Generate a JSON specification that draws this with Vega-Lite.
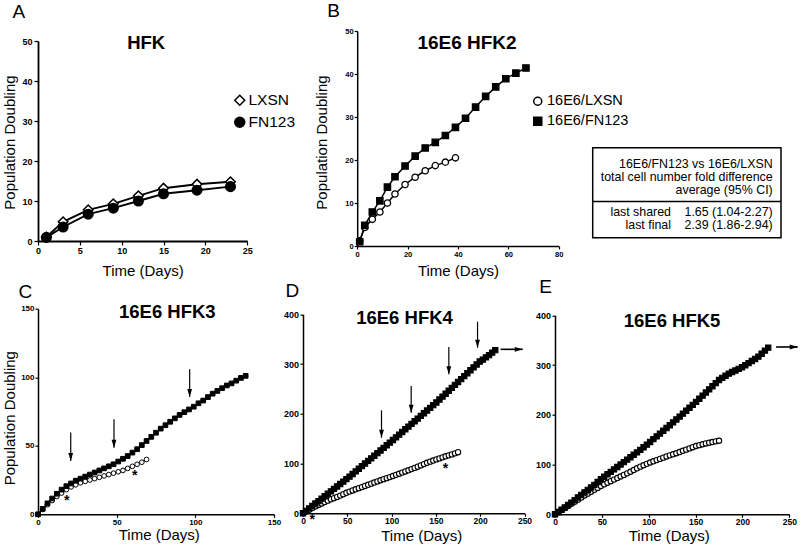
{
  "$schema": "https://vega.github.io/schema/vega-lite/v6.json",
  "background": "white",
  "padding": {"left": 2, "top": 1, "right": 2, "bottom": 2},
  "config": {
    "view": {"stroke": null},
    "font": "Liberation Sans",
    "axis": {"domainColor": "black", "domainWidth": 1.5, "tickColor": "black", "tickWidth": 1.2, "labelColor": "black", "labelFontWeight": "bold", "labelFont": "Liberation Sans", "titleFont": "Liberation Sans", "titleFontWeight": "normal", "titleFontSize": 15, "titleColor": "black", "grid": false, "labelFlush": false, "labelOverlap": false, "titleAlign": "center", "titleBaseline": "alphabetic"},
    "title": {"font": "Liberation Sans", "fontSize": 19, "fontWeight": "normal", "color": "black", "anchor": "start", "frame": "group", "baseline": "alphabetic"}
  },
  "datasets": {
    "a": [
      {"t": 1, "pd": 1.0, "s": "LXSN"}, {"t": 3, "pd": 4.8, "s": "LXSN"}, {"t": 6, "pd": 7.8, "s": "LXSN"}, {"t": 9, "pd": 9.3, "s": "LXSN"}, {"t": 12, "pd": 11.3, "s": "LXSN"}, {"t": 15, "pd": 13.2, "s": "LXSN"}, {"t": 19, "pd": 14.2, "s": "LXSN"}, {"t": 23, "pd": 14.8, "s": "LXSN"},
      {"t": 1, "pd": 0.9, "s": "FN123"}, {"t": 3, "pd": 3.5, "s": "FN123"}, {"t": 6, "pd": 6.7, "s": "FN123"}, {"t": 9, "pd": 8.2, "s": "FN123"}, {"t": 12, "pd": 10.0, "s": "FN123"}, {"t": 15, "pd": 11.8, "s": "FN123"}, {"t": 19, "pd": 12.7, "s": "FN123"}, {"t": 23, "pd": 13.6, "s": "FN123"}
    ],
    "b": [
      {"t": 1, "pd": 1.2, "s": "16E6/LXSN"}, {"t": 3, "pd": 4.3, "s": "16E6/LXSN"}, {"t": 6, "pd": 6.2, "s": "16E6/LXSN"}, {"t": 9, "pd": 7.9, "s": "16E6/LXSN"}, {"t": 12, "pd": 10.0, "s": "16E6/LXSN"}, {"t": 15, "pd": 12.1, "s": "16E6/LXSN"}, {"t": 19, "pd": 14.3, "s": "16E6/LXSN"}, {"t": 23, "pd": 16.0, "s": "16E6/LXSN"}, {"t": 27, "pd": 17.5, "s": "16E6/LXSN"}, {"t": 31, "pd": 18.7, "s": "16E6/LXSN"}, {"t": 35, "pd": 19.5, "s": "16E6/LXSN"}, {"t": 39, "pd": 20.5, "s": "16E6/LXSN"},
      {"t": 1, "pd": 1.0, "s": "16E6/FN123"}, {"t": 3, "pd": 4.8, "s": "16E6/FN123"}, {"t": 6, "pd": 7.9, "s": "16E6/FN123"}, {"t": 9, "pd": 10.5, "s": "16E6/FN123"}, {"t": 12, "pd": 13.7, "s": "16E6/FN123"}, {"t": 15, "pd": 16.1, "s": "16E6/FN123"}, {"t": 19, "pd": 18.6, "s": "16E6/FN123"}, {"t": 23, "pd": 20.9, "s": "16E6/FN123"}, {"t": 27, "pd": 22.8, "s": "16E6/FN123"}, {"t": 31, "pd": 24.1, "s": "16E6/FN123"}, {"t": 35, "pd": 25.7, "s": "16E6/FN123"}, {"t": 39, "pd": 27.6, "s": "16E6/FN123"}, {"t": 43, "pd": 29.7, "s": "16E6/FN123"}, {"t": 47, "pd": 32.3, "s": "16E6/FN123"}, {"t": 51, "pd": 34.8, "s": "16E6/FN123"}, {"t": 55, "pd": 37.0, "s": "16E6/FN123"}, {"t": 59, "pd": 38.9, "s": "16E6/FN123"}, {"t": 63, "pd": 40.2, "s": "16E6/FN123"}, {"t": 67, "pd": 41.4, "s": "16E6/FN123"}
    ],
    "table": [
      {"col": 2, "sec": 1, "txt": ["16E6/FN123 vs 16E6/LXSN", "total cell number fold difference", "average (95% CI)"]},
      {"col": 1, "sec": 2, "txt": ["last shared", "last final"]},
      {"col": 2, "sec": 2, "txt": ["1.65 (1.04-2.27)", "2.39 (1.86-2.94)"]}
    ],
    "c": [
      {"t": 0, "pd": 0, "s": "16E6/LXSN"}, {"t": 3, "pd": 3.5, "s": "16E6/LXSN"}, {"t": 6, "pd": 7, "s": "16E6/LXSN"}, {"t": 9, "pd": 10, "s": "16E6/LXSN"}, {"t": 12, "pd": 13, "s": "16E6/LXSN"}, {"t": 15, "pd": 15.5, "s": "16E6/LXSN"}, {"t": 18, "pd": 18, "s": "16E6/LXSN"}, {"t": 21, "pd": 20, "s": "16E6/LXSN"}, {"t": 24, "pd": 21.5, "s": "16E6/LXSN"}, {"t": 27, "pd": 23, "s": "16E6/LXSN"}, {"t": 30, "pd": 24, "s": "16E6/LXSN"}, {"t": 33, "pd": 25, "s": "16E6/LXSN"}, {"t": 36, "pd": 26, "s": "16E6/LXSN"}, {"t": 39, "pd": 27, "s": "16E6/LXSN"}, {"t": 42, "pd": 28, "s": "16E6/LXSN"}, {"t": 45, "pd": 29, "s": "16E6/LXSN"}, {"t": 48, "pd": 30, "s": "16E6/LXSN"}, {"t": 51, "pd": 31, "s": "16E6/LXSN"}, {"t": 54, "pd": 32, "s": "16E6/LXSN"}, {"t": 57, "pd": 33.5, "s": "16E6/LXSN"}, {"t": 60, "pd": 35, "s": "16E6/LXSN"}, {"t": 63, "pd": 36.5, "s": "16E6/LXSN"}, {"t": 66, "pd": 38, "s": "16E6/LXSN"}, {"t": 69, "pd": 40, "s": "16E6/LXSN"},
      {"t": 0, "pd": 0, "s": "16E6/FN123"}, {"t": 3, "pd": 4, "s": "16E6/FN123"}, {"t": 6, "pd": 8, "s": "16E6/FN123"}, {"t": 9, "pd": 11.5, "s": "16E6/FN123"}, {"t": 12, "pd": 15, "s": "16E6/FN123"}, {"t": 15, "pd": 18, "s": "16E6/FN123"}, {"t": 18, "pd": 20.5, "s": "16E6/FN123"}, {"t": 21, "pd": 22.5, "s": "16E6/FN123"}, {"t": 24, "pd": 24.5, "s": "16E6/FN123"}, {"t": 27, "pd": 26, "s": "16E6/FN123"}, {"t": 30, "pd": 27.5, "s": "16E6/FN123"}, {"t": 33, "pd": 29, "s": "16E6/FN123"}, {"t": 36, "pd": 30.5, "s": "16E6/FN123"}, {"t": 39, "pd": 32, "s": "16E6/FN123"}, {"t": 42, "pd": 33.5, "s": "16E6/FN123"}, {"t": 45, "pd": 35, "s": "16E6/FN123"}, {"t": 48, "pd": 36.5, "s": "16E6/FN123"}, {"t": 51, "pd": 38.5, "s": "16E6/FN123"}, {"t": 54, "pd": 40.5, "s": "16E6/FN123"}, {"t": 57, "pd": 42.5, "s": "16E6/FN123"}, {"t": 60, "pd": 45, "s": "16E6/FN123"}, {"t": 63, "pd": 47.5, "s": "16E6/FN123"}, {"t": 66, "pd": 50.5, "s": "16E6/FN123"}, {"t": 69, "pd": 53.5, "s": "16E6/FN123"}, {"t": 72, "pd": 56.5, "s": "16E6/FN123"}, {"t": 75, "pd": 59.5, "s": "16E6/FN123"}, {"t": 78, "pd": 62.5, "s": "16E6/FN123"}, {"t": 81, "pd": 65, "s": "16E6/FN123"}, {"t": 84, "pd": 67.5, "s": "16E6/FN123"}, {"t": 87, "pd": 70, "s": "16E6/FN123"}, {"t": 90, "pd": 72.5, "s": "16E6/FN123"}, {"t": 93, "pd": 74.5, "s": "16E6/FN123"}, {"t": 96, "pd": 76.5, "s": "16E6/FN123"}, {"t": 99, "pd": 78.5, "s": "16E6/FN123"}, {"t": 102, "pd": 81, "s": "16E6/FN123"}, {"t": 105, "pd": 83, "s": "16E6/FN123"}, {"t": 108, "pd": 85.5, "s": "16E6/FN123"}, {"t": 111, "pd": 88, "s": "16E6/FN123"}, {"t": 114, "pd": 90, "s": "16E6/FN123"}, {"t": 117, "pd": 92, "s": "16E6/FN123"}, {"t": 120, "pd": 94, "s": "16E6/FN123"}, {"t": 123, "pd": 95.5, "s": "16E6/FN123"}, {"t": 126, "pd": 97.5, "s": "16E6/FN123"}, {"t": 129, "pd": 99.5, "s": "16E6/FN123"}, {"t": 132, "pd": 101, "s": "16E6/FN123"}
    ],
    "cArrows": [{"t": 20.8, "top": 59.6, "tip": 38.9}, {"t": 48.3, "top": 69.3, "tip": 48.6}, {"t": 96.4, "top": 105.8, "tip": 85.6}],
    "cStars": [{"t": 18.2, "pd": 6.8}, {"t": 61.4, "pd": 24.8}],
    "d": [
      {"t": 0, "pd": 0, "s": "16E6/LXSN"}, {"t": 3.5, "pd": 3.5, "s": "16E6/LXSN"}, {"t": 7, "pd": 7, "s": "16E6/LXSN"}, {"t": 10.5, "pd": 10.5, "s": "16E6/LXSN"}, {"t": 14, "pd": 13.6, "s": "16E6/LXSN"}, {"t": 17.5, "pd": 16.8, "s": "16E6/LXSN"}, {"t": 21, "pd": 19.8, "s": "16E6/LXSN"}, {"t": 24.5, "pd": 22.6, "s": "16E6/LXSN"}, {"t": 28, "pd": 25.4, "s": "16E6/LXSN"}, {"t": 31.5, "pd": 28.1, "s": "16E6/LXSN"}, {"t": 35, "pd": 30.5, "s": "16E6/LXSN"}, {"t": 38.5, "pd": 33, "s": "16E6/LXSN"}, {"t": 42, "pd": 35.6, "s": "16E6/LXSN"}, {"t": 45.5, "pd": 38.4, "s": "16E6/LXSN"}, {"t": 49, "pd": 41.2, "s": "16E6/LXSN"}, {"t": 52.5, "pd": 43.6, "s": "16E6/LXSN"}, {"t": 56, "pd": 45.9, "s": "16E6/LXSN"}, {"t": 59.5, "pd": 48.2, "s": "16E6/LXSN"}, {"t": 63, "pd": 50.5, "s": "16E6/LXSN"}, {"t": 66.5, "pd": 52.7, "s": "16E6/LXSN"}, {"t": 70, "pd": 55, "s": "16E6/LXSN"}, {"t": 73.5, "pd": 57.3, "s": "16E6/LXSN"}, {"t": 77, "pd": 59.6, "s": "16E6/LXSN"}, {"t": 80.5, "pd": 61.8, "s": "16E6/LXSN"}, {"t": 84, "pd": 64.1, "s": "16E6/LXSN"}, {"t": 87.5, "pd": 66.4, "s": "16E6/LXSN"}, {"t": 91, "pd": 68.6, "s": "16E6/LXSN"}, {"t": 94.5, "pd": 70.7, "s": "16E6/LXSN"}, {"t": 98, "pd": 72.8, "s": "16E6/LXSN"}, {"t": 101.5, "pd": 75, "s": "16E6/LXSN"}, {"t": 105, "pd": 77.3, "s": "16E6/LXSN"}, {"t": 108.5, "pd": 79.5, "s": "16E6/LXSN"}, {"t": 112, "pd": 81.8, "s": "16E6/LXSN"}, {"t": 115.5, "pd": 84.1, "s": "16E6/LXSN"}, {"t": 119, "pd": 86.4, "s": "16E6/LXSN"}, {"t": 122.5, "pd": 88.8, "s": "16E6/LXSN"}, {"t": 126, "pd": 91.2, "s": "16E6/LXSN"}, {"t": 129.5, "pd": 93.7, "s": "16E6/LXSN"}, {"t": 133, "pd": 96.3, "s": "16E6/LXSN"}, {"t": 136.5, "pd": 98.9, "s": "16E6/LXSN"}, {"t": 140, "pd": 101.5, "s": "16E6/LXSN"}, {"t": 143.5, "pd": 103.8, "s": "16E6/LXSN"}, {"t": 147, "pd": 106, "s": "16E6/LXSN"}, {"t": 150.5, "pd": 108.3, "s": "16E6/LXSN"}, {"t": 154, "pd": 110.4, "s": "16E6/LXSN"}, {"t": 157.5, "pd": 112.5, "s": "16E6/LXSN"}, {"t": 161, "pd": 114.6, "s": "16E6/LXSN"}, {"t": 164.5, "pd": 116.5, "s": "16E6/LXSN"}, {"t": 168, "pd": 118.4, "s": "16E6/LXSN"}, {"t": 171.5, "pd": 120.5, "s": "16E6/LXSN"}, {"t": 175, "pd": 122.8, "s": "16E6/LXSN"},
      {"t": 0, "pd": 0, "s": "16E6/FN123"}, {"t": 3.5, "pd": 4.9, "s": "16E6/FN123"}, {"t": 7, "pd": 9.8, "s": "16E6/FN123"}, {"t": 10.5, "pd": 14.7, "s": "16E6/FN123"}, {"t": 14, "pd": 19.6, "s": "16E6/FN123"}, {"t": 17.5, "pd": 24.5, "s": "16E6/FN123"}, {"t": 21, "pd": 29.4, "s": "16E6/FN123"}, {"t": 24.5, "pd": 34.3, "s": "16E6/FN123"}, {"t": 28, "pd": 39.2, "s": "16E6/FN123"}, {"t": 31.5, "pd": 44.1, "s": "16E6/FN123"}, {"t": 35, "pd": 49, "s": "16E6/FN123"}, {"t": 38.5, "pd": 53.9, "s": "16E6/FN123"}, {"t": 42, "pd": 58.8, "s": "16E6/FN123"}, {"t": 45.5, "pd": 63.7, "s": "16E6/FN123"}, {"t": 49, "pd": 68.6, "s": "16E6/FN123"}, {"t": 52.5, "pd": 73.8, "s": "16E6/FN123"}, {"t": 56, "pd": 79, "s": "16E6/FN123"}, {"t": 59.5, "pd": 84.3, "s": "16E6/FN123"}, {"t": 63, "pd": 89.5, "s": "16E6/FN123"}, {"t": 66.5, "pd": 94.8, "s": "16E6/FN123"}, {"t": 70, "pd": 100, "s": "16E6/FN123"}, {"t": 73.5, "pd": 105.3, "s": "16E6/FN123"}, {"t": 77, "pd": 110.5, "s": "16E6/FN123"}, {"t": 80.5, "pd": 115.8, "s": "16E6/FN123"}, {"t": 84, "pd": 121, "s": "16E6/FN123"}, {"t": 87.5, "pd": 126.3, "s": "16E6/FN123"}, {"t": 91, "pd": 131.5, "s": "16E6/FN123"}, {"t": 94.5, "pd": 136.8, "s": "16E6/FN123"}, {"t": 98, "pd": 142, "s": "16E6/FN123"}, {"t": 101.5, "pd": 147.3, "s": "16E6/FN123"}, {"t": 105, "pd": 152.7, "s": "16E6/FN123"}, {"t": 108.5, "pd": 158.1, "s": "16E6/FN123"}, {"t": 112, "pd": 163.5, "s": "16E6/FN123"}, {"t": 115.5, "pd": 168.9, "s": "16E6/FN123"}, {"t": 119, "pd": 174.3, "s": "16E6/FN123"}, {"t": 122.5, "pd": 179.7, "s": "16E6/FN123"}, {"t": 126, "pd": 185, "s": "16E6/FN123"}, {"t": 129.5, "pd": 190.4, "s": "16E6/FN123"}, {"t": 133, "pd": 195.8, "s": "16E6/FN123"}, {"t": 136.5, "pd": 201.2, "s": "16E6/FN123"}, {"t": 140, "pd": 206.6, "s": "16E6/FN123"}, {"t": 143.5, "pd": 212, "s": "16E6/FN123"}, {"t": 147, "pd": 217.4, "s": "16E6/FN123"}, {"t": 150.5, "pd": 222.8, "s": "16E6/FN123"}, {"t": 154, "pd": 228.7, "s": "16E6/FN123"}, {"t": 157.5, "pd": 234.6, "s": "16E6/FN123"}, {"t": 161, "pd": 240.4, "s": "16E6/FN123"}, {"t": 164.5, "pd": 246.3, "s": "16E6/FN123"}, {"t": 168, "pd": 252.2, "s": "16E6/FN123"}, {"t": 171.5, "pd": 258.1, "s": "16E6/FN123"}, {"t": 175, "pd": 264, "s": "16E6/FN123"}, {"t": 178.5, "pd": 269.8, "s": "16E6/FN123"}, {"t": 182, "pd": 275.7, "s": "16E6/FN123"}, {"t": 185.5, "pd": 281.6, "s": "16E6/FN123"}, {"t": 189, "pd": 287.4, "s": "16E6/FN123"}, {"t": 192.5, "pd": 293.3, "s": "16E6/FN123"}, {"t": 196, "pd": 299.2, "s": "16E6/FN123"}, {"t": 199.5, "pd": 305, "s": "16E6/FN123"}, {"t": 203, "pd": 309, "s": "16E6/FN123"}, {"t": 206.5, "pd": 313.5, "s": "16E6/FN123"}, {"t": 210, "pd": 318, "s": "16E6/FN123"}, {"t": 213.5, "pd": 323, "s": "16E6/FN123"}, {"t": 217, "pd": 328, "s": "16E6/FN123"}
    ],
    "dArrows": [{"t": 88.6, "top": 207, "tip": 152}, {"t": 122.1, "top": 255.9, "tip": 202.2}, {"t": 164.6, "top": 334.3, "tip": 279.4}, {"t": 197, "top": 385.1, "tip": 332.9}],
    "dRight": [{"t": 223, "t2": 248, "pd": 329.6}],
    "dStars": [{"t": 10.4, "pd": -22}, {"t": 160.8, "pd": 82}],
    "e": [
      {"t": 0, "pd": 0, "s": "16E6/LXSN"}, {"t": 3.5, "pd": 4.2, "s": "16E6/LXSN"}, {"t": 7, "pd": 8.4, "s": "16E6/LXSN"}, {"t": 10.5, "pd": 12.6, "s": "16E6/LXSN"}, {"t": 14, "pd": 16.8, "s": "16E6/LXSN"}, {"t": 17.5, "pd": 21, "s": "16E6/LXSN"}, {"t": 21, "pd": 25.2, "s": "16E6/LXSN"}, {"t": 24.5, "pd": 29.4, "s": "16E6/LXSN"}, {"t": 28, "pd": 33.6, "s": "16E6/LXSN"}, {"t": 31.5, "pd": 37.7, "s": "16E6/LXSN"}, {"t": 35, "pd": 41.5, "s": "16E6/LXSN"}, {"t": 38.5, "pd": 45.4, "s": "16E6/LXSN"}, {"t": 42, "pd": 49.2, "s": "16E6/LXSN"}, {"t": 45.5, "pd": 53.1, "s": "16E6/LXSN"}, {"t": 49, "pd": 56.9, "s": "16E6/LXSN"}, {"t": 52.5, "pd": 60.3, "s": "16E6/LXSN"}, {"t": 56, "pd": 63.4, "s": "16E6/LXSN"}, {"t": 59.5, "pd": 66.6, "s": "16E6/LXSN"}, {"t": 63, "pd": 69.7, "s": "16E6/LXSN"}, {"t": 66.5, "pd": 72.9, "s": "16E6/LXSN"}, {"t": 70, "pd": 76, "s": "16E6/LXSN"}, {"t": 73.5, "pd": 79.2, "s": "16E6/LXSN"}, {"t": 77, "pd": 82.3, "s": "16E6/LXSN"}, {"t": 80.5, "pd": 85.5, "s": "16E6/LXSN"}, {"t": 84, "pd": 89, "s": "16E6/LXSN"}, {"t": 87.5, "pd": 92.5, "s": "16E6/LXSN"}, {"t": 91, "pd": 95.8, "s": "16E6/LXSN"}, {"t": 94.5, "pd": 98.6, "s": "16E6/LXSN"}, {"t": 98, "pd": 101.4, "s": "16E6/LXSN"}, {"t": 101.5, "pd": 104.1, "s": "16E6/LXSN"}, {"t": 105, "pd": 106.5, "s": "16E6/LXSN"}, {"t": 108.5, "pd": 109, "s": "16E6/LXSN"}, {"t": 112, "pd": 111.4, "s": "16E6/LXSN"}, {"t": 115.5, "pd": 113.9, "s": "16E6/LXSN"}, {"t": 119, "pd": 116.3, "s": "16E6/LXSN"}, {"t": 122.5, "pd": 118.5, "s": "16E6/LXSN"}, {"t": 126, "pd": 120.6, "s": "16E6/LXSN"}, {"t": 129.5, "pd": 122.7, "s": "16E6/LXSN"}, {"t": 133, "pd": 125.1, "s": "16E6/LXSN"}, {"t": 136.5, "pd": 127.6, "s": "16E6/LXSN"}, {"t": 140, "pd": 130, "s": "16E6/LXSN"}, {"t": 143.5, "pd": 132.5, "s": "16E6/LXSN"}, {"t": 147, "pd": 134.9, "s": "16E6/LXSN"}, {"t": 150.5, "pd": 137.3, "s": "16E6/LXSN"}, {"t": 154, "pd": 139, "s": "16E6/LXSN"}, {"t": 157.5, "pd": 140.8, "s": "16E6/LXSN"}, {"t": 161, "pd": 142.4, "s": "16E6/LXSN"}, {"t": 164.5, "pd": 143.8, "s": "16E6/LXSN"}, {"t": 168, "pd": 145.2, "s": "16E6/LXSN"}, {"t": 171.5, "pd": 146.6, "s": "16E6/LXSN"}, {"t": 175, "pd": 147.8, "s": "16E6/LXSN"},
      {"t": 0, "pd": 0, "s": "16E6/FN123"}, {"t": 3.5, "pd": 4.6, "s": "16E6/FN123"}, {"t": 7, "pd": 9.1, "s": "16E6/FN123"}, {"t": 10.5, "pd": 13.7, "s": "16E6/FN123"}, {"t": 14, "pd": 18.6, "s": "16E6/FN123"}, {"t": 17.5, "pd": 23.5, "s": "16E6/FN123"}, {"t": 21, "pd": 28.5, "s": "16E6/FN123"}, {"t": 24.5, "pd": 33.8, "s": "16E6/FN123"}, {"t": 28, "pd": 39, "s": "16E6/FN123"}, {"t": 31.5, "pd": 44.1, "s": "16E6/FN123"}, {"t": 35, "pd": 49, "s": "16E6/FN123"}, {"t": 38.5, "pd": 53.9, "s": "16E6/FN123"}, {"t": 42, "pd": 59.2, "s": "16E6/FN123"}, {"t": 45.5, "pd": 64.8, "s": "16E6/FN123"}, {"t": 49, "pd": 70.4, "s": "16E6/FN123"}, {"t": 52.5, "pd": 75.5, "s": "16E6/FN123"}, {"t": 56, "pd": 80.4, "s": "16E6/FN123"}, {"t": 59.5, "pd": 85.3, "s": "16E6/FN123"}, {"t": 63, "pd": 90.2, "s": "16E6/FN123"}, {"t": 66.5, "pd": 95.1, "s": "16E6/FN123"}, {"t": 70, "pd": 100, "s": "16E6/FN123"}, {"t": 73.5, "pd": 104.9, "s": "16E6/FN123"}, {"t": 77, "pd": 109.8, "s": "16E6/FN123"}, {"t": 80.5, "pd": 114.7, "s": "16E6/FN123"}, {"t": 84, "pd": 119.6, "s": "16E6/FN123"}, {"t": 87.5, "pd": 124.5, "s": "16E6/FN123"}, {"t": 91, "pd": 129.5, "s": "16E6/FN123"}, {"t": 94.5, "pd": 134.8, "s": "16E6/FN123"}, {"t": 98, "pd": 140, "s": "16E6/FN123"}, {"t": 101.5, "pd": 145.4, "s": "16E6/FN123"}, {"t": 105, "pd": 151, "s": "16E6/FN123"}, {"t": 108.5, "pd": 156.6, "s": "16E6/FN123"}, {"t": 112, "pd": 162.2, "s": "16E6/FN123"}, {"t": 115.5, "pd": 167.8, "s": "16E6/FN123"}, {"t": 119, "pd": 173.4, "s": "16E6/FN123"}, {"t": 122.5, "pd": 179, "s": "16E6/FN123"}, {"t": 126, "pd": 184.7, "s": "16E6/FN123"}, {"t": 129.5, "pd": 190.6, "s": "16E6/FN123"}, {"t": 133, "pd": 196.4, "s": "16E6/FN123"}, {"t": 136.5, "pd": 202.3, "s": "16E6/FN123"}, {"t": 140, "pd": 208.2, "s": "16E6/FN123"}, {"t": 143.5, "pd": 214.1, "s": "16E6/FN123"}, {"t": 147, "pd": 220, "s": "16E6/FN123"}, {"t": 150.5, "pd": 225.9, "s": "16E6/FN123"}, {"t": 154, "pd": 232.2, "s": "16E6/FN123"}, {"t": 157.5, "pd": 238.5, "s": "16E6/FN123"}, {"t": 161, "pd": 244.8, "s": "16E6/FN123"}, {"t": 164.5, "pd": 251.1, "s": "16E6/FN123"}, {"t": 168, "pd": 257.4, "s": "16E6/FN123"}, {"t": 171.5, "pd": 263.7, "s": "16E6/FN123"}, {"t": 175, "pd": 270, "s": "16E6/FN123"}, {"t": 178.5, "pd": 274.2, "s": "16E6/FN123"}, {"t": 182, "pd": 278.4, "s": "16E6/FN123"}, {"t": 185.5, "pd": 282.7, "s": "16E6/FN123"}, {"t": 189, "pd": 286, "s": "16E6/FN123"}, {"t": 192.5, "pd": 289, "s": "16E6/FN123"}, {"t": 196, "pd": 292.3, "s": "16E6/FN123"}, {"t": 199.5, "pd": 295.6, "s": "16E6/FN123"}, {"t": 203, "pd": 299.6, "s": "16E6/FN123"}, {"t": 206.5, "pd": 303.8, "s": "16E6/FN123"}, {"t": 210, "pd": 308, "s": "16E6/FN123"}, {"t": 213.5, "pd": 312.2, "s": "16E6/FN123"}, {"t": 217, "pd": 317, "s": "16E6/FN123"}, {"t": 220.5, "pd": 322.8, "s": "16E6/FN123"}, {"t": 224, "pd": 329, "s": "16E6/FN123"}, {"t": 227.5, "pd": 335, "s": "16E6/FN123"}
    ],
    "eRight": [{"t": 235.9, "t2": 259, "pd": 336.3}]
  },
  "concat": [
    {
      "width": 265, "height": 210,
      "title": {"text": "A", "dx": -25.5, "offset": 9.5},
      "layer": [
        {"data": {"name": "a"}, "mark": {"type": "line", "color": "black", "strokeWidth": 1.9},
         "encoding": {
           "x": {"field": "t", "type": "quantitative", "scale": {"domain": [0, 25], "range": [0, 209.2], "nice": false, "zero": false},
                 "axis": {"values": [0, 5, 10, 15, 20, 25], "title": "Time (Days)", "labelFontSize": 9, "tickSize": 4, "labelPadding": 1, "titleX": 104.6, "titleY": 34.5, "domainWidth": 1.8}},
           "y": {"field": "pd", "type": "quantitative", "scale": {"domain": [0, 50], "range": [210, 10], "nice": false, "zero": false},
                 "axis": {"values": [0, 10, 20, 30, 40, 50], "title": "Population Doubling", "labelFontSize": 9, "tickSize": 4, "labelPadding": 2, "titleX": -23.7, "titleY": 111, "titleAngle": -90, "domainWidth": 1.8}},
           "detail": {"field": "s"}}},
        {"data": {"name": "a"}, "mark": {"type": "point", "filled": true, "opacity": 1, "stroke": "black", "strokeWidth": 1.6, "size": 90},
         "encoding": {
           "x": {"field": "t", "type": "quantitative"},
           "y": {"field": "pd", "type": "quantitative"},
           "shape": {"field": "s", "type": "nominal", "scale": {"domain": ["LXSN", "FN123"], "range": ["diamond", "circle"]},
                     "legend": {"title": null, "orient": "none", "legendX": 194, "legendY": 61.5, "padding": 0, "symbolSize": 100, "labelFontSize": 15.5, "labelFont": "Liberation Sans", "labelColor": "black", "labelOffset": 1, "rowPadding": 4,
                                "encode": {"symbols": {"stroke": {"value": "black"}, "strokeWidth": {"value": 1.5}}}}},
           "fill": {"field": "s", "type": "nominal", "scale": {"domain": ["LXSN", "FN123"], "range": ["white", "black"]},
                     "legend": {"title": null, "orient": "none", "legendX": 194, "legendY": 61.5, "padding": 0, "symbolSize": 100, "labelFontSize": 15.5, "labelFont": "Liberation Sans", "labelColor": "black", "labelOffset": 1, "rowPadding": 4,
                                "encode": {"symbols": {"stroke": {"value": "black"}, "strokeWidth": {"value": 1.5}}}}}}},
        {"data": {"values": [{"label": "HFK"}]}, "mark": {"type": "text", "fontSize": 18.5, "fontWeight": "bold", "align": "center", "baseline": "alphabetic", "color": "black"},
         "encoding": {"x": {"datum": 12.93}, "y": {"datum": 47.9}, "text": {"field": "label"}}}
      ]
    },
    {
      "width": 251.5, "height": 215,
      "title": {"text": "B", "dx": 24.2, "offset": 6.5},
      "layer": [
        {"data": {"name": "b"}, "mark": {"type": "line", "color": "black", "strokeWidth": 1.5},
         "encoding": {
           "x": {"field": "t", "type": "quantitative", "scale": {"domain": [0, 80], "range": [54.2, 255.7], "nice": false, "zero": false},
                 "axis": {"values": [0, 20, 40, 60, 80], "title": "Time (Days)", "labelFontSize": 7.5, "tickSize": 3, "labelPadding": 1, "titleX": 154.95, "titleY": 29}},
           "y": {"field": "pd", "type": "quantitative", "scale": {"domain": [0, 50], "range": [215, 0], "nice": false, "zero": false},
                 "axis": {"values": [0, 10, 20, 30, 40, 50], "title": "Population Doubling", "labelFontSize": 7.5, "tickSize": 3, "labelPadding": 1, "titleX": -31, "titleY": 111, "titleAngle": -90, "offset": -54.2}},
           "detail": {"field": "s"}}},
        {"data": {"name": "b"}, "mark": {"type": "point", "filled": true, "opacity": 1, "stroke": "black", "strokeWidth": 1.3, "size": 40},
         "encoding": {
           "x": {"field": "t", "type": "quantitative"},
           "y": {"field": "pd", "type": "quantitative"},
           "shape": {"field": "s", "type": "nominal", "scale": {"domain": ["16E6/LXSN", "16E6/FN123"], "range": ["circle", "square"]},
                     "legend": {"title": null, "orient": "none", "legendX": 227.5, "legendY": 63, "padding": 0, "symbolSize": 64, "labelFontSize": 14.5, "labelFont": "Liberation Sans", "labelColor": "black", "labelOffset": 2, "rowPadding": 4,
                                "encode": {"symbols": {"stroke": {"value": "black"}, "strokeWidth": {"value": 1.4}}}}},
           "fill": {"field": "s", "type": "nominal", "scale": {"domain": ["16E6/LXSN", "16E6/FN123"], "range": ["white", "black"]},
                     "legend": {"title": null, "orient": "none", "legendX": 227.5, "legendY": 63, "padding": 0, "symbolSize": 64, "labelFontSize": 14.5, "labelFont": "Liberation Sans", "labelColor": "black", "labelOffset": 2, "rowPadding": 4,
                                "encode": {"symbols": {"stroke": {"value": "black"}, "strokeWidth": {"value": 1.4}}}}}}},
        {"data": {"values": [{"label": "16E6 HFK2"}]}, "mark": {"type": "text", "fontSize": 19, "fontWeight": "bold", "align": "center", "baseline": "alphabetic", "color": "black"},
         "encoding": {"x": {"datum": 43.6}, "y": {"datum": 45.7}, "text": {"field": "label"}}}
      ]
    },
    {
      "width": 226, "height": 215,
      "layer": [
        {"data": {"values": [{}]}, "mark": {"type": "rect", "fill": "white", "fillOpacity": 0, "stroke": "black", "strokeWidth": 1.5},
         "encoding": {
           "x": {"datum": 0.2301, "type": "quantitative", "scale": {"domain": [1, 2], "range": [116, 217.7], "nice": false, "zero": false}, "axis": null},
           "x2": {"datum": 2.0816},
           "y": {"datum": 0.78, "type": "quantitative", "scale": {"domain": [1, 2], "range": [127.2, 174.9], "nice": false, "zero": false}, "axis": null},
           "y2": {"datum": 2.667}}},
        {"data": {"values": [{}]}, "mark": {"type": "rule", "color": "black", "strokeWidth": 1.5},
         "encoding": {"x": {"datum": 0.2301, "type": "quantitative"}, "x2": {"datum": 2.0816}, "y": {"datum": 1.906, "type": "quantitative"}}},
        {"data": {"name": "table"}, "mark": {"type": "text", "align": "right", "baseline": "top", "fontSize": 12.4, "lineHeight": 12.8, "color": "black"},
         "encoding": {"x": {"field": "col", "type": "quantitative"}, "y": {"field": "sec", "type": "quantitative"}, "text": {"field": "txt"}}}
      ]
    },
    {
      "width": 265, "height": 210.6,
      "title": {"text": "C", "dx": -19.5, "offset": 0.3},
      "layer": [
        {"data": {"name": "c"}, "mark": {"type": "line", "color": "black", "strokeWidth": 1.3},
         "encoding": {
           "x": {"field": "t", "type": "quantitative", "scale": {"domain": [0, 150], "range": [0, 236], "nice": false, "zero": false},
                 "axis": {"values": [0, 50, 100, 150], "title": "Time (Days)", "labelFontSize": 8, "tickSize": 3, "labelPadding": 1, "titleX": 120.8, "titleY": 25.2}},
           "y": {"field": "pd", "type": "quantitative", "scale": {"domain": [0, 150], "range": [210.6, 5], "nice": false, "zero": false},
                 "axis": {"values": [0, 50, 100, 150], "title": "Population Doubling", "labelFontSize": 8, "tickSize": 3, "labelPadding": 1, "titleX": -23.5, "titleY": 114, "titleAngle": -90}},
           "detail": {"field": "s"}}},
        {"data": {"name": "c"}, "mark": {"type": "point", "filled": true, "opacity": 1, "stroke": "black", "strokeWidth": 1, "size": 22},
         "encoding": {
           "x": {"field": "t", "type": "quantitative"},
           "y": {"field": "pd", "type": "quantitative"},
           "shape": {"field": "s", "type": "nominal", "scale": {"domain": ["16E6/LXSN", "16E6/FN123"], "range": ["circle", "square"]}, "legend": null},
           "fill": {"field": "s", "type": "nominal", "scale": {"domain": ["16E6/LXSN", "16E6/FN123"], "range": ["white", "black"]}, "legend": null}}},
        {"data": {"name": "cArrows"}, "mark": {"type": "rule", "color": "black", "strokeWidth": 1.2},
         "encoding": {"x": {"field": "t", "type": "quantitative"}, "y": {"field": "top", "type": "quantitative"}, "y2": {"field": "tip"}}},
        {"data": {"name": "cArrows"}, "mark": {"type": "point", "shape": "M0,0L-0.6,-2L0.6,-2Z", "size": 64, "filled": true, "color": "black", "opacity": 1, "strokeWidth": 0},
         "encoding": {"x": {"field": "t", "type": "quantitative"}, "y": {"field": "tip", "type": "quantitative"}}},
        {"data": {"name": "cStars"}, "mark": {"type": "text", "text": "*", "fontSize": 14, "fontWeight": "bold", "align": "center", "baseline": "alphabetic", "color": "black"},
         "encoding": {"x": {"field": "t", "type": "quantitative"}, "y": {"field": "pd", "type": "quantitative"}}},
        {"data": {"values": [{"label": "16E6 HFK3"}]}, "mark": {"type": "text", "fontSize": 18.5, "fontWeight": "bold", "align": "center", "baseline": "alphabetic", "color": "black"},
         "encoding": {"x": {"datum": 82.2}, "y": {"datum": 143.5}, "text": {"field": "label"}}}
      ]
    },
    {
      "width": 251.5, "height": 209.6,
      "title": {"text": "D", "dx": -17.5, "offset": 2.7},
      "layer": [
        {"data": {"name": "d"}, "mark": {"type": "line", "color": "black", "strokeWidth": 1.3},
         "encoding": {
           "x": {"field": "t", "type": "quantitative", "scale": {"domain": [0, 250], "range": [0, 221.5], "nice": false, "zero": false},
                 "axis": {"values": [0, 50, 100, 150, 200, 250], "title": "Time (Days)", "labelFontSize": 8.5, "tickSize": 3, "labelPadding": 0.5, "titleX": 118.3, "titleY": 26.7}},
           "y": {"field": "pd", "type": "quantitative", "scale": {"domain": [0, 400], "range": [209.6, 10.6], "nice": false, "zero": false},
                 "axis": {"values": [0, 100, 200, 300, 400], "title": null, "labelFontSize": 9, "tickSize": 3, "labelPadding": 1.5}},
           "detail": {"field": "s"}}},
        {"data": {"name": "d"}, "mark": {"type": "point", "filled": true, "opacity": 1, "stroke": "black", "strokeWidth": 1.1, "size": 28},
         "encoding": {
           "x": {"field": "t", "type": "quantitative"},
           "y": {"field": "pd", "type": "quantitative"},
           "shape": {"field": "s", "type": "nominal", "scale": {"domain": ["16E6/LXSN", "16E6/FN123"], "range": ["circle", "square"]}, "legend": null},
           "fill": {"field": "s", "type": "nominal", "scale": {"domain": ["16E6/LXSN", "16E6/FN123"], "range": ["white", "black"]}, "legend": null}}},
        {"data": {"name": "dArrows"}, "mark": {"type": "rule", "color": "black", "strokeWidth": 1.2},
         "encoding": {"x": {"field": "t", "type": "quantitative"}, "y": {"field": "top", "type": "quantitative"}, "y2": {"field": "tip"}}},
        {"data": {"name": "dArrows"}, "mark": {"type": "point", "shape": "M0,0L-0.6,-2L0.6,-2Z", "size": 64, "filled": true, "color": "black", "opacity": 1, "strokeWidth": 0},
         "encoding": {"x": {"field": "t", "type": "quantitative"}, "y": {"field": "tip", "type": "quantitative"}}},
        {"data": {"name": "dRight"}, "mark": {"type": "rule", "color": "black", "strokeWidth": 1.6},
         "encoding": {"x": {"field": "t", "type": "quantitative"}, "x2": {"field": "t2"}, "y": {"field": "pd", "type": "quantitative"}}},
        {"data": {"name": "dRight"}, "mark": {"type": "point", "shape": "M0,0L-2,-0.6L-2,0.6Z", "size": 64, "filled": true, "color": "black", "opacity": 1, "strokeWidth": 0},
         "encoding": {"x": {"field": "t2", "type": "quantitative"}, "y": {"field": "pd", "type": "quantitative"}}},
        {"data": {"name": "dStars"}, "mark": {"type": "text", "text": "*", "fontSize": 14, "fontWeight": "bold", "align": "center", "baseline": "alphabetic", "color": "black"},
         "encoding": {"x": {"field": "t", "type": "quantitative"}, "y": {"field": "pd", "type": "quantitative"}}},
        {"data": {"values": [{"label": "16E6 HFK4"}]}, "mark": {"type": "text", "fontSize": 18.5, "fontWeight": "bold", "align": "center", "baseline": "alphabetic", "color": "black"},
         "encoding": {"x": {"datum": 114.6}, "y": {"datum": 379.5}, "text": {"field": "label"}}}
      ]
    },
    {
      "width": 234.3, "height": 210.6,
      "title": {"text": "E", "dx": -15.7, "offset": 6.4},
      "layer": [
        {"data": {"name": "e"}, "mark": {"type": "line", "color": "black", "strokeWidth": 1.3},
         "encoding": {
           "x": {"field": "t", "type": "quantitative", "scale": {"domain": [0, 250], "range": [0, 234.3], "nice": false, "zero": false},
                 "axis": {"values": [0, 50, 100, 150, 200, 250], "title": "Time (Days)", "labelFontSize": 8.5, "tickSize": 3, "labelPadding": 0.5, "titleX": 113.8, "titleY": 25.7}},
           "y": {"field": "pd", "type": "quantitative", "scale": {"domain": [0, 400], "range": [210.6, 11.6], "nice": false, "zero": false},
                 "axis": {"values": [0, 100, 200, 300, 400], "title": null, "labelFontSize": 9, "tickSize": 3, "labelPadding": 1.5}},
           "detail": {"field": "s"}}},
        {"data": {"name": "e"}, "mark": {"type": "point", "filled": true, "opacity": 1, "stroke": "black", "strokeWidth": 1.1, "size": 28},
         "encoding": {
           "x": {"field": "t", "type": "quantitative"},
           "y": {"field": "pd", "type": "quantitative"},
           "shape": {"field": "s", "type": "nominal", "scale": {"domain": ["16E6/LXSN", "16E6/FN123"], "range": ["circle", "square"]}, "legend": null},
           "fill": {"field": "s", "type": "nominal", "scale": {"domain": ["16E6/LXSN", "16E6/FN123"], "range": ["white", "black"]}, "legend": null}}},
        {"data": {"name": "eRight"}, "mark": {"type": "rule", "color": "black", "strokeWidth": 1.6},
         "encoding": {"x": {"field": "t", "type": "quantitative"}, "x2": {"field": "t2"}, "y": {"field": "pd", "type": "quantitative"}}},
        {"data": {"name": "eRight"}, "mark": {"type": "point", "shape": "M0,0L-2,-0.6L-2,0.6Z", "size": 64, "filled": true, "color": "black", "opacity": 1, "strokeWidth": 0},
         "encoding": {"x": {"field": "t2", "type": "quantitative"}, "y": {"field": "pd", "type": "quantitative"}}},
        {"data": {"values": [{"label": "16E6 HFK5"}]}, "mark": {"type": "text", "fontSize": 18.5, "fontWeight": "bold", "align": "center", "baseline": "alphabetic", "color": "black"},
         "encoding": {"x": {"datum": 124.9}, "y": {"datum": 376.5}, "text": {"field": "label"}}}
      ]
    }
  ],
  "columns": 3,
  "bounds": "flush",
  "spacing": {"row": 57.7, "column": 0},
  "resolve": {"scale": {"x": "independent", "y": "independent", "shape": "independent", "fill": "independent"}, "legend": {"shape": "independent", "fill": "independent"}}
}
